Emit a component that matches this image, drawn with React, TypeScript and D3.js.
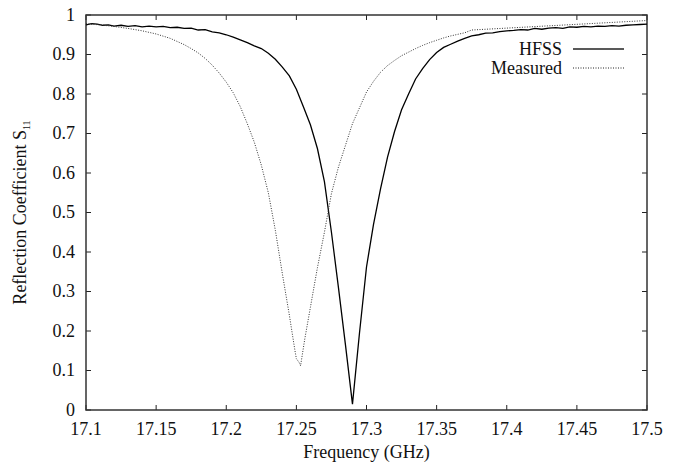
import React from 'react';
import * as d3 from 'd3';

// HFSS simulation (GHz, |S11|)
const hfssFreq = [
  17.100, 17.104, 17.108, 17.112, 17.116, 17.120, 17.125, 17.130, 17.135, 17.140,
  17.145, 17.150, 17.155, 17.160, 17.165, 17.170, 17.175, 17.180, 17.185, 17.190,
  17.195, 17.200, 17.205, 17.210, 17.215, 17.220, 17.225, 17.230, 17.235, 17.240,
  17.245, 17.250, 17.255, 17.260, 17.265, 17.270, 17.275, 17.280, 17.285, 17.290,
  17.295, 17.300, 17.305, 17.310, 17.315, 17.320, 17.325, 17.330, 17.335, 17.340,
  17.345, 17.350, 17.355, 17.360, 17.365, 17.370, 17.375, 17.380, 17.385, 17.390,
  17.395, 17.400, 17.405, 17.410, 17.415, 17.420, 17.425, 17.430, 17.435, 17.440,
  17.445, 17.450, 17.455, 17.460, 17.465, 17.470, 17.475, 17.480, 17.485, 17.490,
  17.495, 17.500,
];
const hfssS11 = [
  0.975, 0.978, 0.977, 0.974, 0.975, 0.972, 0.974, 0.971, 0.973, 0.970,
  0.972, 0.970, 0.971, 0.968, 0.969, 0.966, 0.967, 0.962, 0.963, 0.957,
  0.955, 0.950, 0.944, 0.937, 0.930, 0.922, 0.915, 0.903, 0.888, 0.868,
  0.846, 0.812, 0.768, 0.722, 0.662, 0.578, 0.450, 0.310, 0.165, 0.015,
  0.195, 0.362, 0.470, 0.560, 0.640, 0.705, 0.760, 0.800, 0.838, 0.864,
  0.887, 0.905, 0.918, 0.926, 0.934, 0.941, 0.947, 0.950, 0.954, 0.955,
  0.958, 0.960, 0.961, 0.963, 0.962, 0.966, 0.964, 0.967, 0.968, 0.966,
  0.970, 0.969, 0.971, 0.970, 0.972, 0.971, 0.973, 0.972, 0.974, 0.975,
  0.976, 0.977,
];

// measured data
const measFreq = [
  17.100, 17.110, 17.120, 17.130, 17.140, 17.150, 17.160, 17.170, 17.175, 17.180,
  17.185, 17.190, 17.195, 17.200, 17.205, 17.210, 17.215, 17.220, 17.225, 17.230,
  17.235, 17.240, 17.245, 17.249, 17.250, 17.252, 17.253, 17.256, 17.260, 17.265,
  17.270, 17.275, 17.280, 17.285, 17.290, 17.295, 17.300, 17.305, 17.310, 17.315,
  17.320, 17.325, 17.330, 17.335, 17.340, 17.345, 17.350, 17.355, 17.360, 17.365,
  17.370, 17.375, 17.500,
];
const measS11 = [
  0.978, 0.975, 0.971, 0.966, 0.960, 0.952, 0.941, 0.925, 0.915, 0.904,
  0.890, 0.873, 0.853, 0.830, 0.803, 0.768, 0.725, 0.678, 0.620, 0.550,
  0.455, 0.345, 0.240, 0.150, 0.130, 0.120, 0.112, 0.180, 0.260, 0.360,
  0.450, 0.548, 0.615, 0.670, 0.725, 0.765, 0.805, 0.832, 0.855, 0.872,
  0.885, 0.897, 0.906, 0.915, 0.923, 0.930, 0.936, 0.942, 0.947, 0.951,
  0.955, 0.962, 0.986,
];

const xTicks = [17.1, 17.15, 17.2, 17.25, 17.3, 17.35, 17.4, 17.45, 17.5];
const yTicks = [0, 0.1, 0.2, 0.3, 0.4, 0.5, 0.6, 0.7, 0.8, 0.9, 1];

const W = 678;
const H = 466;
const margin = { top: 15, right: 31, bottom: 56, left: 86 };
const font = 'Liberation Serif';
const fontSize = 18;
const ink = '#111';

const x = d3.scaleLinear().domain([17.1, 17.5]).range([margin.left, W - margin.right]);
const y = d3.scaleLinear().domain([0, 1]).range([H - margin.bottom, margin.top]);

const line = d3.line<[number, number]>()
  .x(d => x(d[0]))
  .y(d => y(d[1]));

const hfss = hfssFreq.map((f, i) => [f, hfssS11[i]] as [number, number]);
const meas = measFreq.map((f, i) => [f, measS11[i]] as [number, number]);

const legend = [
  { label: 'HFSS', dash: undefined, yy: 49, width: 1.3 },
  { label: 'Measured', dash: '1,1.5', yy: 68, width: 1 },
];

const App = () => {
  const x0 = x.range()[0], x1 = x.range()[1];
  const y0 = y.range()[0], y1 = y.range()[1];
  const tstyle = { fontFamily: font, fontSize: `${fontSize}px` };

  return (
    <svg width={W} height={H}
      style={{ position: 'absolute', left: 0, top: 0, background: '#fff' }}>
      {/* ticks, all four sides, pointing inward */}
      {xTicks.map(t => (
        <g key={'x' + t}>
          <line x1={x(t)} x2={x(t)} y1={y0} y2={y0 - 5} stroke="#222" />
          <line x1={x(t)} x2={x(t)} y1={y1} y2={y1 + 5} stroke="#222" />
          <text x={x(t)} y={y0 + 25} textAnchor="middle" fill={ink} style={tstyle}>{String(t)}</text>
        </g>
      ))}
      {yTicks.map(t => (
        <g key={'y' + t}>
          <line x1={x0} x2={x0 + 5} y1={y(t)} y2={y(t)} stroke="#222" />
          <line x1={x1} x2={x1 - 5} y1={y(t)} y2={y(t)} stroke="#222" />
          <text x={x0 - 11} y={y(t)} dy="0.33em" textAnchor="end" fill={ink} style={tstyle}>{String(t)}</text>
        </g>
      ))}

      <rect x={x0} y={y1} width={x1 - x0} height={y0 - y1} fill="none" stroke="#333" strokeWidth={1.5} />

      <path d={line(hfss) || ''} fill="none" stroke="#000" strokeWidth={1.3} />
      <path d={line(meas) || ''} fill="none" stroke="#333" strokeWidth={1} strokeDasharray="1,1.5" />

      {legend.map(l => (
        <g key={l.label}>
          <text x={562} y={l.yy} dy="0.33em" textAnchor="end" fill={ink} style={tstyle}>{l.label}</text>
          <line x1={573} x2={624} y1={l.yy} y2={l.yy} stroke="#222" strokeWidth={l.width} strokeDasharray={l.dash} />
        </g>
      ))}

      <text x={(x0 + x1) / 2} y={458} textAnchor="middle" fill={ink} style={tstyle}>Frequency (GHz)</text>
      <text transform={`translate(26,${(y0 + y1) / 2}) rotate(-90)`} textAnchor="middle" fill={ink} style={tstyle}>
        Reflection Coefficient S<tspan dy={4} style={{ fontSize: '10px' }}>11</tspan>
      </text>
    </svg>
  );
};

export default App;
